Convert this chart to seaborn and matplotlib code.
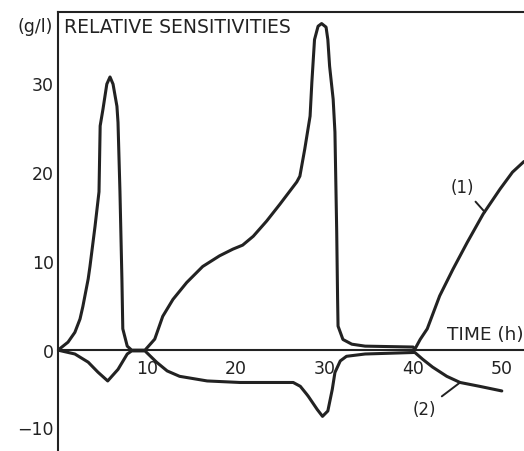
import numpy as np
import pandas as pd
import matplotlib
matplotlib.use("Agg")
import matplotlib.pyplot as plt
import seaborn as sns

# curve (1)
time_1 = [0.0, 1.13, 1.9, 2.48, 2.8, 3.4, 3.6, 4.17, 4.62, 4.75, 5.07, 5.5, 5.86, 6.2,
          6.64, 6.76, 6.98, 7.2, 7.3, 7.8, 8.3, 9.8, 10.9, 11.8, 12.95, 14.5, 16.3,
          18.2, 19.7, 20.8, 22.0, 23.5, 25.0, 26.9, 27.25, 27.8, 28.4, 28.6, 28.9,
          29.3, 29.7, 30.2, 30.4, 30.6, 31.0, 31.2, 31.3, 31.4, 31.5, 31.55, 32.1,
          33.1, 34.6, 40.0, 40.2, 40.8, 41.6, 43.0, 44.5, 46.1, 47.9, 49.8, 51.2, 52.5]
sens_1 = [0.0, 0.9, 2.0, 3.5, 4.9, 8.0, 9.4, 13.9, 17.8, 25.2, 27.1, 29.9, 30.7, 29.9,
          27.4, 25.6, 17.8, 8.0, 2.4, 0.45, 0.0, 0.0, 1.24, 3.8, 5.7, 7.6, 9.4,
          10.6, 11.35, 11.8, 12.8, 14.5, 16.4, 18.9, 19.55, 22.6, 26.3, 30.1, 34.9,
          36.4, 36.7, 36.3, 34.9, 31.9, 28.2, 24.5, 18.9, 13.3, 5.7, 2.7, 1.2,
          0.67, 0.45, 0.35, 0.1, 1.2, 2.4, 6.1, 9.1, 12.1, 15.3, 18.1, 20.0, 21.2]

# curve (2)
time_2 = [0.0, 1.9, 3.4, 4.5, 5.6, 6.76, 7.8, 8.3, 9.8, 11.1, 12.3, 13.7, 16.8, 20.5,
          26.5, 27.3, 28.0, 28.2, 29.2, 29.8, 30.4, 30.9, 31.2, 31.8, 32.5, 34.6,
          40.2, 41.1, 42.2, 43.8, 45.3, 47.5, 50.0]
sens_2 = [0.0, -0.5, -1.56, -2.86, -4.0, -2.5, -0.5, -0.1, -0.1, -1.56, -2.7, -3.4,
          -4.0, -4.2, -4.2, -4.7, -5.7, -6.0, -7.7, -8.6, -7.9, -5.1, -2.9, -1.4,
          -0.8, -0.5, -0.3, -1.2, -2.2, -3.4, -4.2, -4.7, -5.3]

x_ticks = [10, 20, 30, 40, 50]
y_ticks = [-10, 0, 10, 20, 30]

# the original drawing uses a squeezed scale below zero
NEG = 7.7 / 8.9


def fwd(y):
    y = np.asarray(y, dtype=float)
    return np.where(y < 0, y * NEG, y)


def inv(y):
    y = np.asarray(y, dtype=float)
    return np.where(y < 0, y / NEG, y)


sns.set_style("white")
plt.rcParams["font.family"] = ["DejaVu Sans"]

ink = "#222222"
fig = plt.figure(figsize=(5.24, 4.52), dpi=100)
ax = fig.add_axes([58 / 524, 0.0, 466 / 524, 439 / 452])

df1 = pd.DataFrame({"time": time_1, "sens": sens_1})
df2 = pd.DataFrame({"time": time_2, "sens": sens_2})
sns.lineplot(data=df1, x="time", y="sens", estimator=None, sort=False,
             color=ink, lw=2.2, ax=ax)
sns.lineplot(data=df2, x="time", y="sens", estimator=None, sort=False,
             color=ink, lw=2.2, ax=ax)
for ln in ax.lines:
    ln.set_solid_joinstyle("round")
    ln.set_solid_capstyle("round")

ax.set_yscale("function", functions=(fwd, inv))
ax.set_xlim(0, 52.5)
ax.set_ylim(-13.1, 38.0)

ax.spines["right"].set_visible(False)
ax.spines["bottom"].set_position(("data", 0))
for s in ["left", "top", "bottom"]:
    ax.spines[s].set_color(ink)
    ax.spines[s].set_linewidth(1.5)

ax.set_xticks(x_ticks)
ax.set_yticks(y_ticks)
ax.set_xticklabels([str(t) for t in x_ticks])
ax.set_yticklabels(["\u221210" if t < 0 else str(t) for t in y_ticks])
ax.tick_params(axis="x", direction="inout", length=8.5, width=1.2, color=ink,
               labelsize=12.5, labelcolor=ink, pad=2)
ax.tick_params(axis="y", direction="in", length=4.5, width=1.2, color=ink,
               labelsize=12.5, labelcolor=ink, pad=3)
ax.set_xlabel("")
ax.set_ylabel("")

ax.text(-0.012, 0.968, "(g/l)", transform=ax.transAxes, ha="right", va="center",
        fontsize=12.5, color=ink)
ax.text(0.012, 0.968, "RELATIVE SENSITIVITIES", transform=ax.transAxes,
        ha="left", va="center", fontsize=13.5, color=ink)
ax.text(52.45, 1.8, "TIME (h)", ha="right", va="center", fontsize=13.3, color=ink)

ax.annotate("(1)", xy=(48.1, 15.5), xytext=(45.6, 18.3), ha="center", va="center",
            fontsize=12, color=ink,
            arrowprops=dict(arrowstyle="-", color=ink, lw=1.4, shrinkA=2, shrinkB=0))
ax.annotate("(2)", xy=(45.3, -4.2), xytext=(41.3, -7.7), ha="center", va="center",
            fontsize=12, color=ink,
            arrowprops=dict(arrowstyle="-", color=ink, lw=1.4, shrinkA=2, shrinkB=0))

fig.savefig("out.png", dpi=100)
